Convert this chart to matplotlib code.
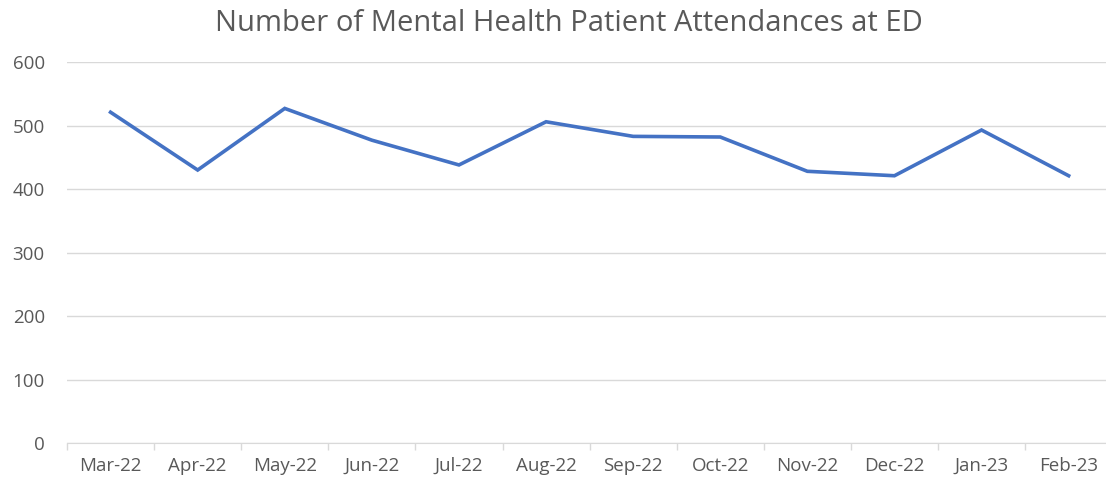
import matplotlib.pyplot as plt
import numpy as np

# --- data ---
months = ["Mar-22", "Apr-22", "May-22", "Jun-22", "Jul-22", "Aug-22",
          "Sep-22", "Oct-22", "Nov-22", "Dec-22", "Jan-23", "Feb-23"]
attendances = [521, 430, 527, 477, 438, 506, 483, 482, 428, 421, 493, 421]
y_ticks = [0, 100, 200, 300, 400, 500, 600]

plt.rcParams["font.family"] = ["Open Sans", "DejaVu Sans"]

fig = plt.figure(figsize=(11.06, 4.79), dpi=100)
ax = fig.add_axes([0.0606, 0.075, 0.945, 0.7954])

x = np.arange(len(months))
ax.plot(x, attendances, color="#4472C4", lw=2.6, solid_joinstyle="miter")

ax.set_xlim(-0.5, len(months) - 0.5)
ax.set_ylim(0, 600)
ax.set_yticks(y_ticks)
ax.yaxis.grid(True, color="#d9d9d9", lw=1)
ax.set_axisbelow(True)

# category labels centred, tick marks between categories
ax.set_xticks(x)
ax.set_xticklabels(months)
ax.set_xticks(np.arange(-0.5, len(months), 1), minor=True)
ax.tick_params(axis="x", which="major", length=0, pad=10,
               labelsize=13.5, labelcolor="#595959")
ax.tick_params(axis="x", which="minor", length=5, color="#d9d9d9", width=1)
ax.tick_params(axis="y", length=0, pad=16, labelsize=13.5, labelcolor="#595959")

for s in ["top", "right", "left"]:
    ax.spines[s].set_visible(False)
ax.spines["bottom"].set_color("#d9d9d9")

fig.text(0.514, 0.95, "Number of Mental Health Patient Attendances at ED",
         ha="center", va="center", fontsize=21, color="#595959")

fig.savefig("out.png", dpi=100)
